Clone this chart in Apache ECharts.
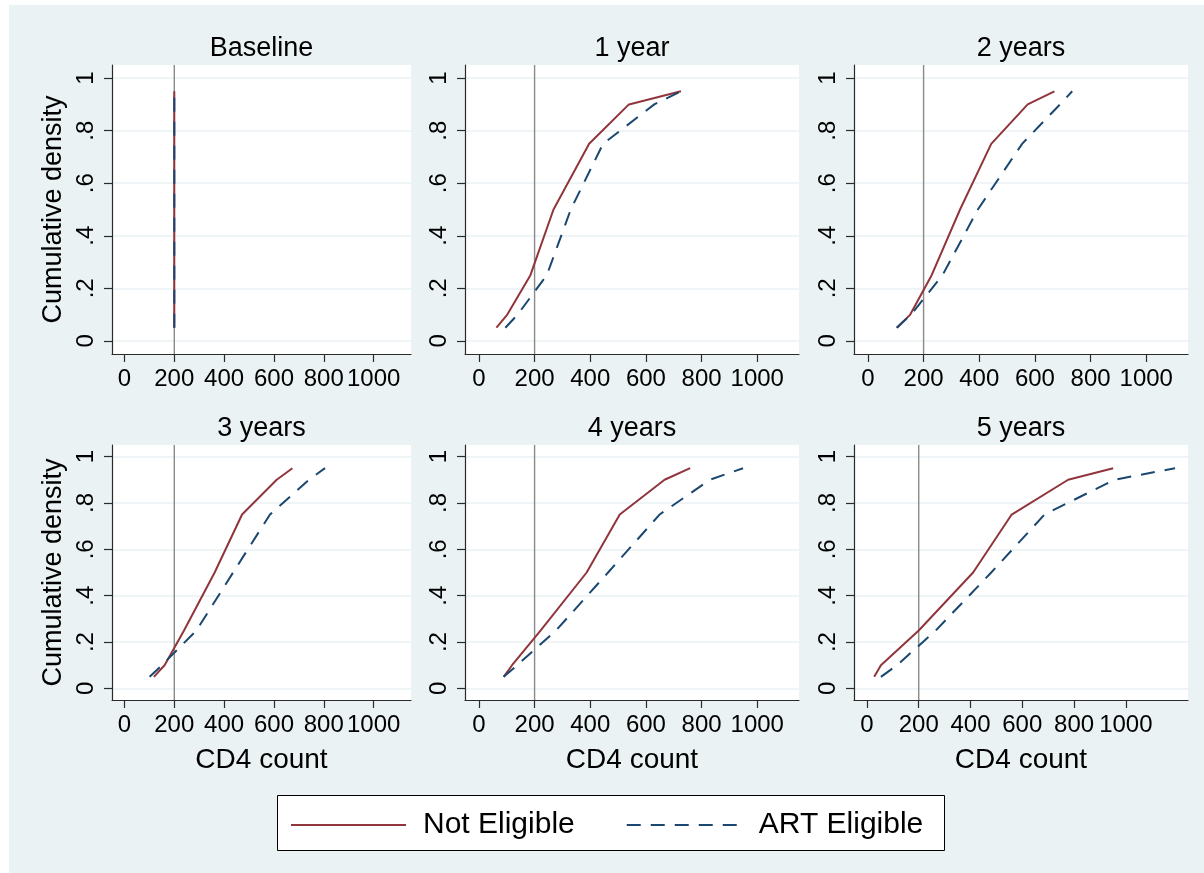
<!DOCTYPE html>
<html>
<head>
<meta charset="utf-8">
<script src="https://cdn.jsdelivr.net/npm/echarts@6/dist/echarts.min.js"></script>
<style>
html,body{margin:0;padding:0;background:#ffffff;}
#chart{position:absolute;left:0;top:0;width:1204px;height:873px;}
</style>
</head>
<body>
<div id="chart"></div>
<script>
// ---- data ----
const quantiles = [0.05, 0.10, 0.25, 0.50, 0.75, 0.90, 0.95];
const panelTitles = ['Baseline', '1 year', '2 years', '3 years', '4 years', '5 years'];
const seriesNames = ['Not Eligible', 'ART Eligible'];

const notEligibleBaseline = [200, 200, 200, 200, 200, 200, 200];
const artEligibleBaseline = [200, 200, 200, 200, 200, 200, 200];
const notEligibleYear1 = [63, 102, 185, 268, 396, 539, 726];
const artEligibleYear1 = [95, 139, 244, 330, 446, 630, 726];
const notEligibleYear2 = [105, 152, 229, 331, 443, 574, 670];
const artEligibleYear2 = [103, 155, 268, 395, 554, 690, 734];
const notEligibleYear3 = [118, 161, 239, 362, 472, 611, 674];
const artEligibleYear3 = [101, 150, 289, 436, 584, 740, 805];
const notEligibleYear4 = [89, 119, 222, 387, 506, 667, 759];
const artEligibleYear4 = [89, 137, 277, 464, 649, 830, 949];
const notEligibleYear5 = [28, 54, 200, 410, 559, 777, 951];
const artEligibleYear5 = [54, 116, 266, 480, 686, 955, 1190];

const cutoff = 200;
const xTicks = [0, 200, 400, 600, 800, 1000];
const yTicks = [0, 0.2, 0.4, 0.6, 0.8, 1];
const yTickLabels = ['0', '.2', '.4', '.6', '.8', '1'];
const xMaxByPanel = [1150, 1150, 1150, 1150, 1150, 1240];

// ---- layout / style ----
const FONT = '"Liberation Sans", Arial, Helvetica, sans-serif';
const RED = '#90353B';
const BLUE = '#1A476F';
const BG = '#EAF2F3';
const AXIS = '#2b2b2b';
const yMin = -0.05, yMax = 1.05, xMin = -50;

const grids = [
  {left: 112, top: 65, width: 299, height: 289},
  {left: 465, top: 65, width: 334, height: 289},
  {left: 854, top: 65, width: 334, height: 289},
  {left: 112, top: 445, width: 299, height: 255},
  {left: 465, top: 445, width: 334, height: 255},
  {left: 854, top: 445, width: 334, height: 255}
];

const panelData = [
  [notEligibleBaseline, artEligibleBaseline],
  [notEligibleYear1, artEligibleYear1],
  [notEligibleYear2, artEligibleYear2],
  [notEligibleYear3, artEligibleYear3],
  [notEligibleYear4, artEligibleYear4],
  [notEligibleYear5, artEligibleYear5]
];

function yLabel(v) {
  for (let i = 0; i < yTicks.length; i++) {
    if (Math.abs(yTicks[i] - v) < 1e-6) return yTickLabels[i];
  }
  return '';
}

const option = {
  backgroundColor: BG,
  animation: false,
  textStyle: {fontFamily: FONT},
  title: panelTitles.map((t, i) => ({
    text: t,
    left: grids[i].left + grids[i].width / 2,
    top: i < 3 ? 35 : 415,
    textAlign: 'center',
    padding: 0,
    textStyle: {fontFamily: FONT, fontSize: 27, fontWeight: 'normal', color: '#000'}
  })),
  graphic: [
    {type: 'rect', shape: {x: 0, y: 0, width: 1204, height: 5}, style: {fill: '#ffffff'}, silent: true},
    {type: 'rect', shape: {x: 0, y: 0, width: 9, height: 873}, style: {fill: '#ffffff'}, silent: true},
    {type: 'rect', shape: {x: 277.5, y: 795.5, width: 667, height: 55}, style: {fill: '#ffffff', stroke: '#000', lineWidth: 1}, silent: true, z: 0}
  ],
  legend: {
    data: seriesNames,
    left: 290,
    top: 810,
    itemWidth: 115,
    itemHeight: 14,
    itemGap: 51,
    padding: 0,
    itemStyle: {opacity: 0},
    textStyle: {fontFamily: FONT, fontSize: 30, color: '#000', padding: [0, 0, 0, 12]},
    z: 10
  },
  grid: grids.map(g => Object.assign({
    show: true, backgroundColor: '#ffffff', borderWidth: 0, containLabel: false, outerBoundsMode: 'none'
  }, g)),
  xAxis: grids.map((g, i) => ({
    type: 'value',
    gridIndex: i,
    min: xMin,
    max: xMaxByPanel[i],
    name: i >= 3 ? 'CD4 count' : '',
    nameLocation: 'middle',
    nameGap: 46,
    nameTextStyle: {fontFamily: FONT, fontSize: 28, color: '#000'},
    axisLine: {show: true, onZero: false, lineStyle: {color: AXIS, width: 1.2}},
    axisTick: {show: true, customValues: xTicks, length: 8, lineStyle: {color: AXIS, width: 1.2}},
    axisLabel: {show: true, customValues: xTicks, margin: 13, fontFamily: FONT, fontSize: 24, color: '#000', hideOverlap: false,
      formatter: v => String(Math.round(v))},
    splitLine: {show: false}
  })),
  yAxis: grids.map((g, i) => ({
    type: 'value',
    gridIndex: i,
    min: yMin,
    max: yMax,
    name: (i === 0 || i === 3) ? 'Cumulative density' : '',
    nameLocation: 'middle',
    nameGap: 45,
    nameTextStyle: {fontFamily: FONT, fontSize: 27, color: '#000'},
    axisLine: {show: true, onZero: false, lineStyle: {color: AXIS, width: 1.2}},
    axisTick: {show: true, customValues: yTicks, length: 8, lineStyle: {color: AXIS, width: 1.2}},
    axisLabel: {show: true, customValues: yTicks, rotate: 90, margin: 14, fontFamily: FONT, fontSize: 24, color: '#000',
      formatter: v => yLabel(v)},
    splitLine: {show: true, lineStyle: {color: BG, width: 1.5}}
  })),
  series: []
};

panelData.forEach((pair, i) => {
  option.series.push({
    name: 'cutoff',
    type: 'line',
    xAxisIndex: i, yAxisIndex: i,
    data: [[cutoff, yMin], [cutoff, yMax]],
    symbol: 'none',
    silent: true,
    z: 1,
    lineStyle: {color: '#8a8a8a', width: 1.4}
  });
  pair.forEach((xs, s) => {
    option.series.push({
      name: seriesNames[s],
      type: 'line',
      xAxisIndex: i, yAxisIndex: i,
      data: xs.map((x, k) => [x, quantiles[k]]),
      symbol: 'none',
      showSymbol: false,
      z: 3 + s,
      lineStyle: s === 0
        ? {color: RED, width: 2, type: 'solid'}
        : {color: BLUE, width: 2, type: [14, 10]},
      itemStyle: {color: s === 0 ? RED : BLUE}
    });
  });
});

const chart = echarts.init(document.getElementById('chart'), null, {renderer: 'canvas'});
chart.setOption(option);
</script>
</body>
</html>
